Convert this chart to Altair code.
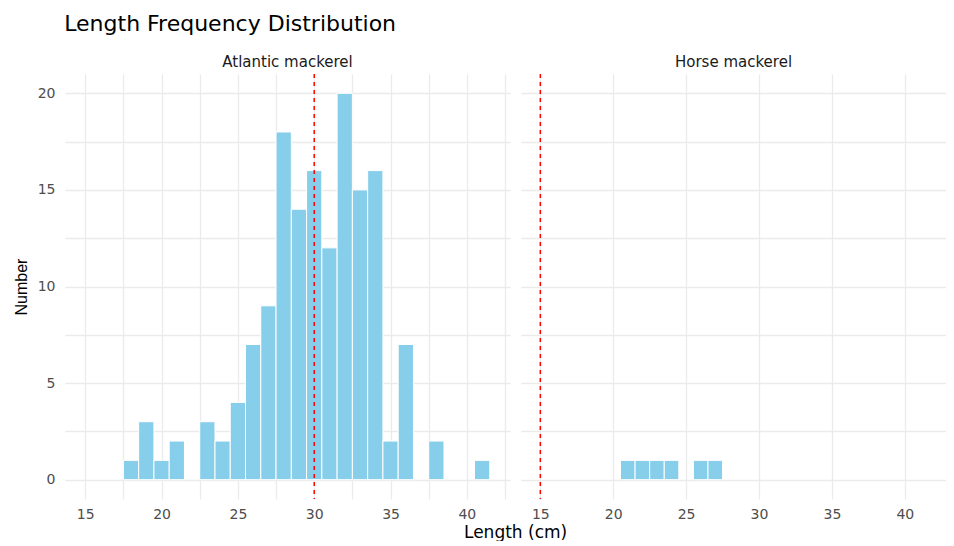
import altair as alt
import pandas as pd

# ---- data ----
species = ["Atlantic mackerel", "Horse mackerel"]
atl_lengths = [18, 19, 20, 21, 23, 24, 25, 26, 27, 28, 29, 30, 31, 32, 33, 34, 35, 36, 38, 41]
atl_counts = [1, 3, 1, 2, 3, 2, 4, 7, 9, 18, 14, 16, 12, 20, 15, 16, 2, 7, 2, 1]
horse_lengths = [21, 22, 23, 24, 26, 27]
horse_counts = [1, 1, 1, 1, 1, 1]
ref_lengths = [30, 15]
x_grid = [15, 17.5, 20, 22.5, 25, 27.5, 30, 32.5, 35, 37.5, 40, 42.5]
y_grid = [0, 2.5, 5, 7.5, 10, 12.5, 15, 17.5, 20]
bin_width = 1

FONT = "DejaVu Sans"
x_scale = alt.Scale(domain=[13.675, 42.825], nice=False, zero=False)
y_scale = alt.Scale(domain=[-1, 21], nice=False, zero=False)


def panel(name, lengths, counts, ref, width, show_y):
    df = pd.DataFrame({"length": lengths, "count": counts})
    df["lo"] = df["length"] - bin_width / 2
    df["hi"] = df["length"] + bin_width / 2
    df["base"] = 0
    x_axis = alt.Axis(values=x_grid, labelExpr="datum.value % 5 == 0 ? datum.label : ''",
                      title=None, ticks=False, domain=False, labelPadding=8, labelFlush=False)
    if show_y:
        y_axis = alt.Axis(values=y_grid, labelExpr="datum.value % 5 == 0 ? datum.label : ''",
                          title="Number", ticks=False, domain=False, labelPadding=10,
                          titlePadding=8, titleFont="Liberation Sans", titleFontSize=16,
                          titleFontWeight="normal", titleColor="#000000")
    else:
        y_axis = alt.Axis(values=y_grid, labels=False, title=None, ticks=False, domain=False)
    bars = alt.Chart(df).mark_rect(color="#87CEEB", stroke="white", strokeWidth=1).encode(
        x=alt.X("lo:Q", scale=x_scale, axis=x_axis),
        x2="hi:Q",
        y=alt.Y("count:Q", scale=y_scale, axis=y_axis),
        y2="base:Q",
    )
    rule = alt.Chart(pd.DataFrame({"ref": [ref]})).mark_rule(
        color="#FF0000", strokeDash=[4, 4], strokeWidth=1.5
    ).encode(x=alt.X("ref:Q"))
    return alt.layer(bars, rule).properties(
        width=width, height=425,
        title=alt.TitleParams(name, anchor="middle", frame="group", fontSize=15, font=FONT,
                              fontWeight="normal", color="#1A1A1A", offset=3),
    )


left = panel(species[0], atl_lengths, atl_counts, ref_lengths[0], 445, True)
right = panel(species[1], horse_lengths, horse_counts, ref_lengths[1], 425, False)

inner = alt.hconcat(left, right, spacing=11).properties(
    title=alt.TitleParams("Length (cm)", orient="bottom", anchor="middle", fontSize=17,
                          font=FONT, fontWeight="normal", color="#000000", dx=36, offset=4)
)

chart = alt.vconcat(inner).properties(
    title=alt.TitleParams("Length Frequency Distribution", anchor="start", fontSize=22,
                          font=FONT, fontWeight="normal", color="#000000", dx=51, offset=19),
    padding={"left": 5, "top": 5, "right": 0, "bottom": 0},
    background="white",
).configure_view(stroke=None).configure_axis(
    grid=True, gridColor="#EBEBEB", gridWidth=1.3,
    labelFont=FONT, labelFontSize=14, labelColor="#4D4D4D",
).configure_concat(spacing=11)

chart.save("out.html", embed_options={"renderer": "svg", "actions": False})
